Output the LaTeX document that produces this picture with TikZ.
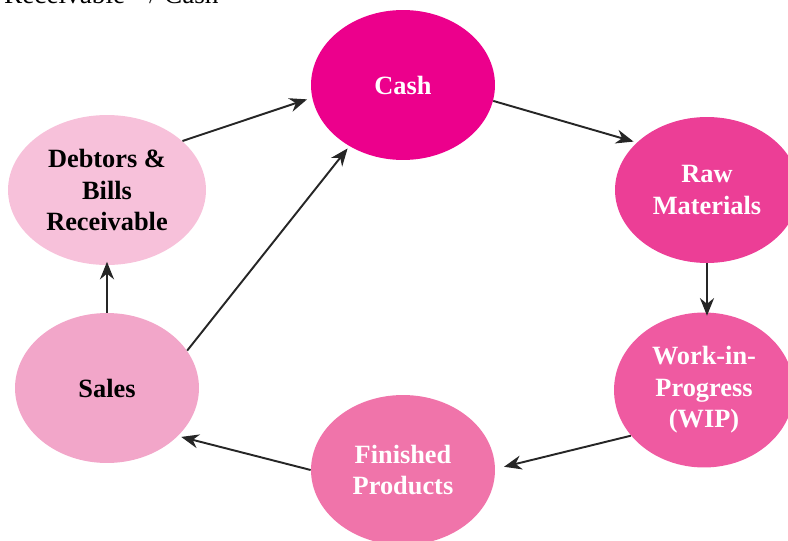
\documentclass[tikz,border=0pt]{standalone}
\usepackage{fontspec}
\setmainfont{Liberation Serif}
\usetikzlibrary{shapes.geometric,arrows.meta}
\definecolor{cashpink}{RGB}{236,0,140}
\definecolor{rawpink}{RGB}{236,62,150}
\definecolor{wippink}{RGB}{239,90,161}
\definecolor{finpink}{RGB}{240,116,170}
\definecolor{salespink}{RGB}{242,166,201}
\definecolor{debtpink}{RGB}{247,193,218}
\tikzset{
  stage/.style={ellipse,inner sep=0pt,minimum width=3.68cm,minimum height=3cm,
    font=\fontsize{15}{18}\selectfont\bfseries,align=center},
  flow/.style={-{Stealth[length=10pt,width=8pt]},line width=1.1pt,black!85}
}
\begin{document}
\begin{tikzpicture}[x=0.02cm,y=-0.02cm]
\useasboundingbox (0,0) rectangle (788,541);
\node[anchor=base west,font=\fontsize{15.5}{18}\selectfont] (top) at (-2,4) {Receivable $\rightarrow$ Cash};

\node[stage,fill=cashpink,text=white] (cash) at (403,85) {Cash};
\node[stage,fill=debtpink,text=black,minimum width=3.96cm] (debt) at (107,190) {Debtors \&\\Bills\\Receivable};
\node[stage,fill=rawpink,text=white,minimum height=2.92cm] (raw) at (707,190) {Raw\\Materials};
\node[stage,fill=wippink,text=white,minimum width=3.6cm,minimum height=3.1cm] (wip) at (704,390) {Work-in-\\Progress\\(WIP)};
\node[stage,fill=finpink,text=white] (fin) at (403,470) {Finished\\Products};
\node[stage,fill=salespink,text=black] (sales) at (107,388) {Sales};

\draw[flow] (debt.33) -- ([xshift=-3]cash.189);
\draw[flow] (sales.25) -- ([shift={(-2,2)}]cash.229);
\draw[flow] (cash.350) -- ([shift={(-2,-2)}]raw.147);
\draw[flow] (raw.south) -- ([yshift=-2]raw.south |- wip.north);
\draw[flow] (wip.212) -- ([xshift=5]fin.2);
\draw[flow] (fin.180) -- ([shift={(2,2)}]sales.327);
\draw[flow] (sales.north) -- ([yshift=2]debt.south);
\end{tikzpicture}
\end{document}
